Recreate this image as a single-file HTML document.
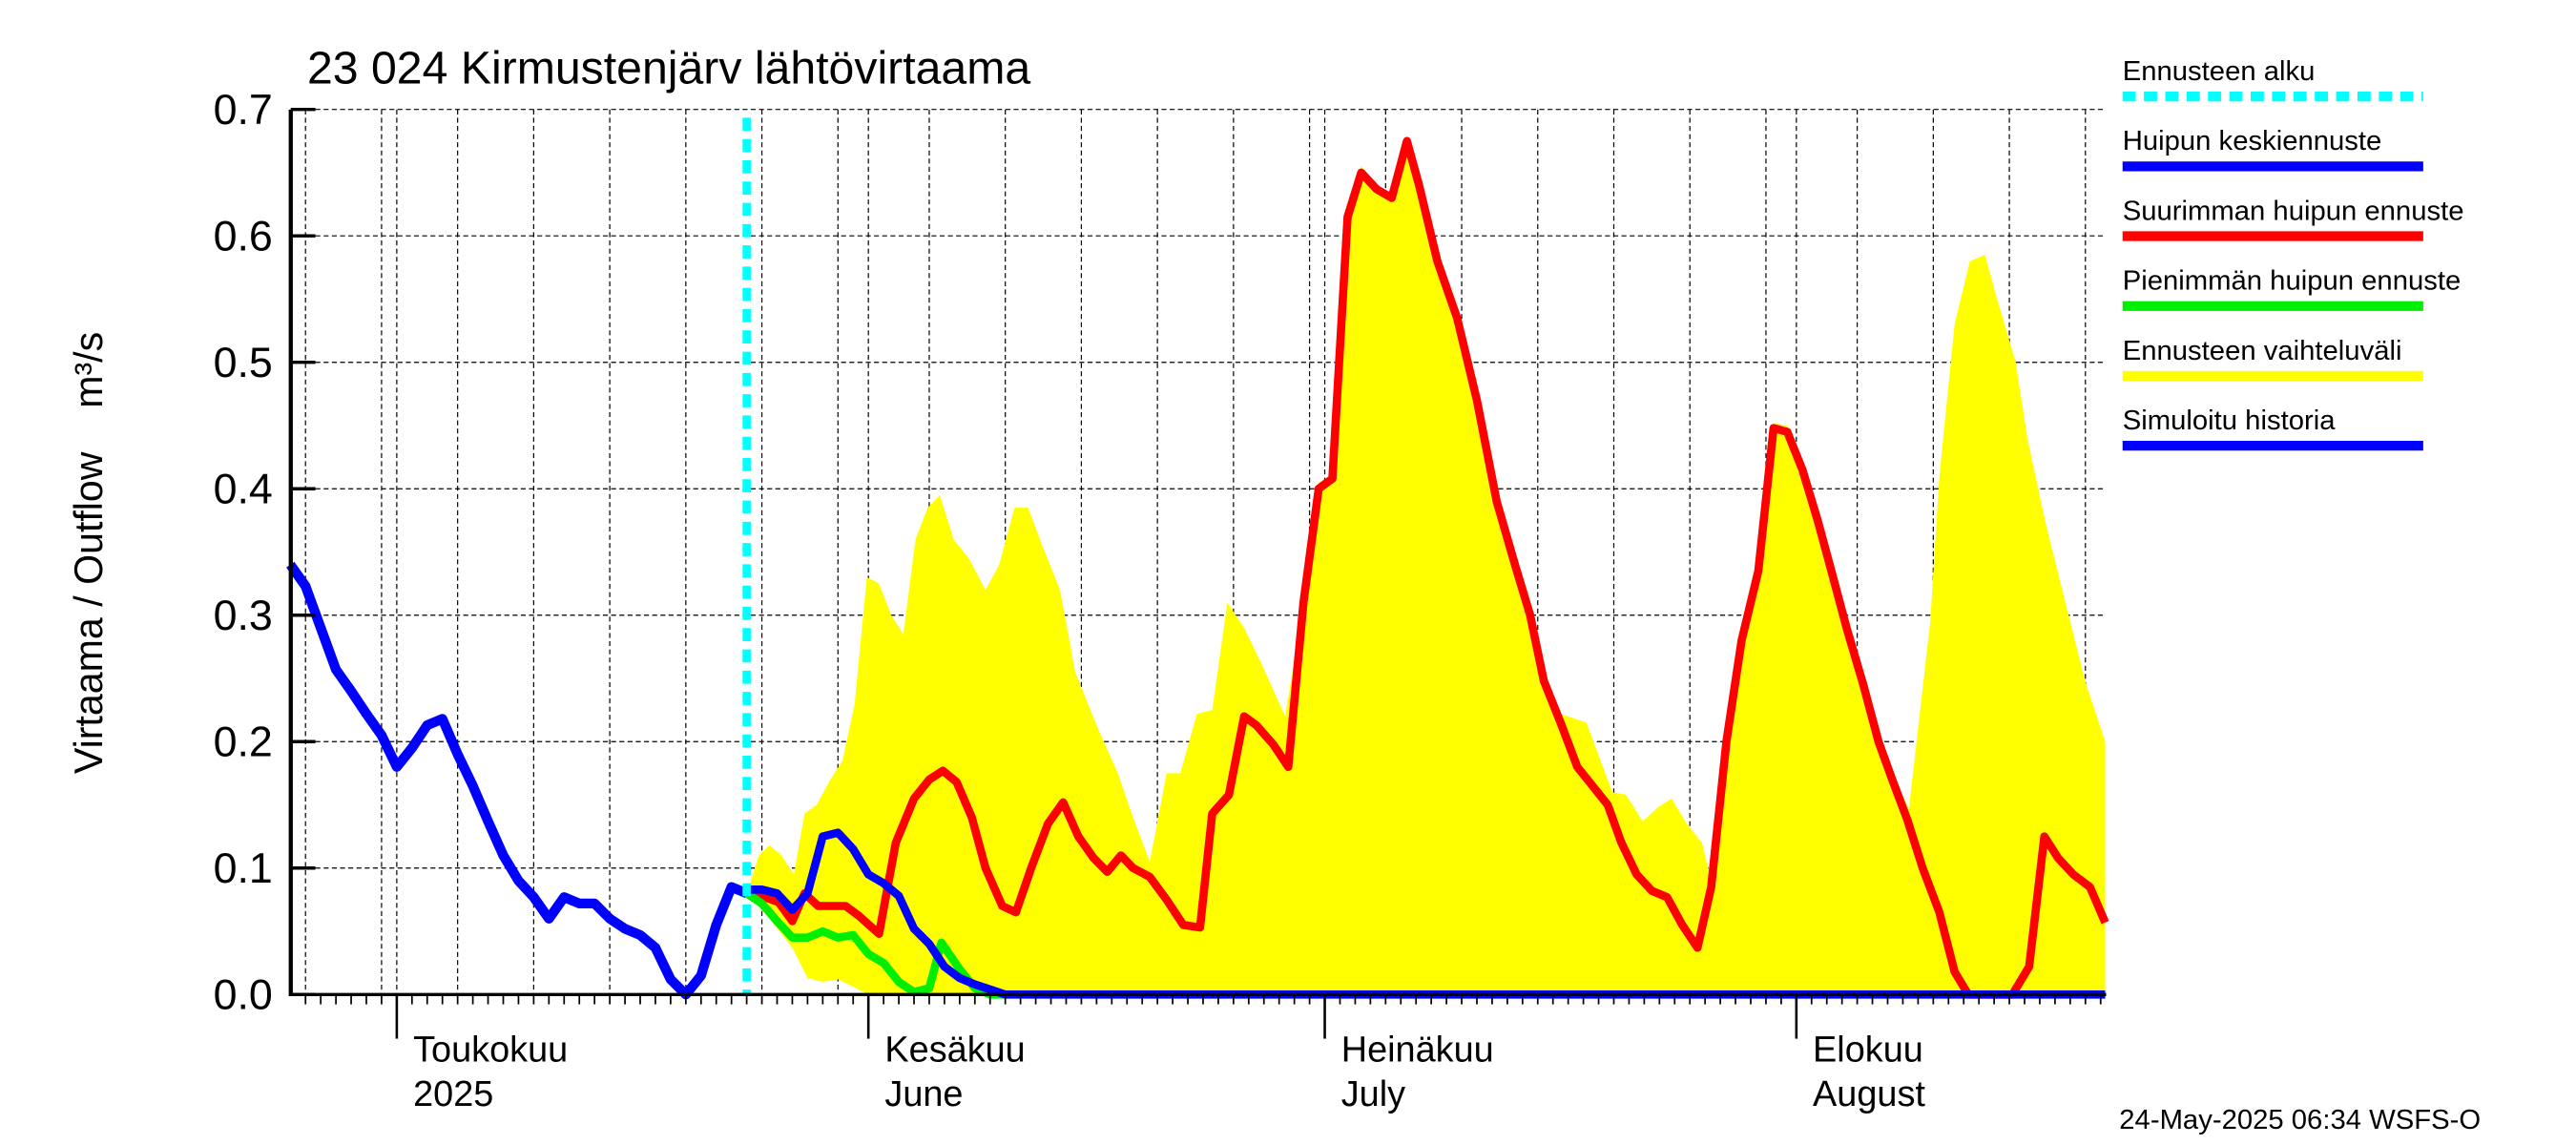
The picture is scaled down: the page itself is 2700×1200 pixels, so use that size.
<!DOCTYPE html>
<html><head><meta charset="utf-8"><style>
html,body{margin:0;padding:0;background:#fff;}
svg{display:block;font-family:"Liberation Sans",sans-serif;}
</style></head><body>
<svg id="chart" width="2700" height="1200" viewBox="0 0 1568 700" preserveAspectRatio="none" xmlns="http://www.w3.org/2000/svg">
<rect x="0" y="0" width="1568" height="700" fill="#fff"/>
<g id="grid"></g>
<g id="band"></g>
<g id="series"></g>
<g id="axes"></g>
<text x="187" y="51" font-size="28">23 024 Kirmustenjärv lähtövirtaama</text>
<text transform="translate(62,338) rotate(-90)" text-anchor="middle" font-size="24" xml:space="preserve">Virtaama / Outflow    m³/s</text>
<text x="1290" y="690" font-size="17">24-May-2025 06:34 WSFS-O</text>
<g id="legend"></g>
</svg>
<script>
// Data: day offsets from 2025-04-24, values in m3/s
const histDays = [0,1,2,3,4,5,6,7,8,9,10,11,12,13,14,15,16,17,18,19,20,21,22,23,24,25,26,27,28,29,30];
const histVals = [0.34,0.323,0.29,0.257,0.24,0.222,0.205,0.18,0.195,0.213,0.218,0.19,0.165,0.137,0.11,0.09,0.077,0.06,0.077,0.072,0.072,0.06,0.052,0.047,0.037,0.012,0.0,0.015,0.055,0.085,0.08];
const medDays = [30,31,32,33,34,35,36,37,38,39,40,41,42,43,44,45,46,47,119.3];
const medVals = [0.083,0.083,0.08,0.067,0.08,0.125,0.128,0.115,0.095,0.088,0.078,0.052,0.04,0.022,0.013,0.008,0.004,0,0];
const minDays = [30,31,32,33,34,35,36,37,38,39,40,41,42,42.8,44,45,46,47];
const minVals = [0.08,0.072,0.058,0.045,0.045,0.05,0.045,0.047,0.032,0.025,0.01,0.002,0.005,0.041,0.02,0.005,0,0];
const maxDays = [30,31.2,32.1,33,33.8,34.7,36.5,37.4,38.7,39.8,41,42,42.9,43.8,44.8,45.7,46.8,47.7,48.7,49.8,50.8,51.8,52.8,53.7,54.6,55.4,56.5,57.6,58.7,59.8,60.6,61.7,62.7,63.5,64.6,65.6,66.6,67.6,68.5,69.5,70.4,71.4,72.4,73.4,74.2,75.4,76.7,78,79.3,80.5,81.5,82.4,83.5,84.6,85.6,86.6,87.5,88.5,89.5,90.5,91.5,92.5,93.4,94.4,95.4,96.5,97.5,98.4,99.4,100.4,101.3,102.3,103.4,104.4,105.3,106.3,107.3,108.4,109.4,110.3,113.2,114.3,115.3,116.2,117.2,118.3,119.3];
const maxVals = [0.08,0.077,0.073,0.058,0.08,0.07,0.07,0.062,0.048,0.12,0.155,0.17,0.177,0.168,0.14,0.1,0.07,0.065,0.1,0.135,0.152,0.125,0.108,0.097,0.11,0.1,0.093,0.075,0.055,0.053,0.143,0.158,0.22,0.213,0.198,0.18,0.31,0.4,0.408,0.615,0.65,0.637,0.63,0.675,0.64,0.58,0.535,0.47,0.39,0.34,0.3,0.248,0.215,0.18,0.165,0.15,0.12,0.095,0.082,0.077,0.055,0.037,0.085,0.2,0.28,0.335,0.448,0.445,0.415,0.375,0.335,0.29,0.245,0.2,0.17,0.138,0.1,0.065,0.018,0.0,0.0,0.022,0.125,0.108,0.095,0.085,0.057];
const bandUpDays = [30,30.8,31.5,32.3,33.1,33.8,34.6,35.5,36.3,37.1,37.9,38.7,39.5,40.3,41.1,41.9,42.7,43.6,44.6,45.7,46.6,47.6,48.5,49.6,50.6,51.6,53.1,54.4,55.4,56.5,57.6,58.5,59.6,60.6,61.6,62.7,63.9,65.4,66.6,67.6,68.5,69.5,70.4,71.4,72.4,73.4,74.2,75.4,76.7,78,79.3,80.5,81.5,82.4,83.5,85.2,86.9,87.8,88.9,89.9,90.8,91.8,92.8,93.4,94.4,95.4,96.5,97.5,98.4,99.4,100.4,101.3,102.3,103.4,104.4,105.3,106.4,107.8,108.4,109.4,110.4,111.4,112.1,113.4,114.2,115.4,117,118,119.3];
const bandUpVals = [0.08,0.11,0.118,0.11,0.095,0.143,0.15,0.17,0.185,0.23,0.33,0.325,0.3,0.285,0.36,0.385,0.395,0.36,0.345,0.32,0.34,0.385,0.385,0.35,0.32,0.255,0.21,0.175,0.14,0.105,0.175,0.175,0.222,0.225,0.31,0.29,0.26,0.22,0.31,0.405,0.41,0.62,0.655,0.64,0.632,0.678,0.645,0.585,0.54,0.475,0.395,0.345,0.305,0.255,0.222,0.215,0.16,0.158,0.137,0.148,0.155,0.135,0.12,0.09,0.205,0.285,0.34,0.452,0.45,0.42,0.38,0.34,0.295,0.25,0.205,0.175,0.147,0.295,0.41,0.53,0.58,0.585,0.554,0.501,0.439,0.372,0.295,0.247,0.2];
const bandLoDays = [30,31.5,33,34,35,36,37.2,38,119.3];
const bandLoVals = [0.08,0.06,0.037,0.013,0.01,0.012,0.005,0,0];
const yTicks = [0,0.1,0.2,0.3,0.4,0.5,0.6,0.7];
const yTickLabels = ["0.0","0.1","0.2","0.3","0.4","0.5","0.6","0.7"];
const monthLabels = [["Toukokuu","2025"],["Kesäkuu","June"],["Heinäkuu","July"],["Elokuu","August"]];
const forecastStartDay = 30;

const NS="http://www.w3.org/2000/svg";
const X0=176.7, PXD=9.26, Y0=608, PXV=773; // axis functions
const xs=d=>X0+d*PXD, ys=v=>Y0-v*PXV;
const XMAX=1282, DMAX=(XMAX-X0)/PXD;
function mk(tag,attrs,parent){const e=document.createElementNS(NS,tag);for(const k in attrs)e.setAttribute(k,attrs[k]);parent.appendChild(e);return e;}
const grid=document.getElementById('grid'),axes=document.getElementById('axes'),series=document.getElementById('series'),band=document.getElementById('band'),legend=document.getElementById('legend');
const base=new Date(Date.UTC(2025,3,24));
const dayOf=(m,d)=>(Date.UTC(2025,m,d)-base)/86400000;
// horizontal grid + y ticks
yTicks.forEach((v,i)=>{
  const g=mk('line',{x1:177,x2:XMAX,y1:ys(v),y2:ys(v),stroke:'#000','stroke-width':0.7,'stroke-dasharray':'3,2'},grid);
  
  
  const t=mk('line',{x1:177,x2:192,y1:ys(v),y2:ys(v),stroke:'#000','stroke-width':2},axes);
  
  
  const l=mk('text',{x:166,y:ys(v)+9,'text-anchor':'end','font-size':26},axes);
  l.textContent=yTickLabels[i];
  
  
});
// vertical grid every 5 days + month starts
for(let m=3;m<=7;m++){
  [1,5,10,15,20,25,30].forEach(dd=>{
    const d=dayOf(m,dd); if(d<0.5||d>DMAX)return;
    const g=mk('line',{x1:xs(d),x2:xs(d),y1:67,y2:Y0,stroke:'#000','stroke-width':0.7,'stroke-dasharray':'3,2'},grid);
    
    
  });
}
// daily minor ticks
for(let d=1;d<DMAX;d++){
  const t=mk('line',{x1:xs(d),x2:xs(d),y1:Y0,y2:Y0+6,stroke:'#000','stroke-width':1},axes);
  
  
}
// month ticks & labels
[4,5,6,7].forEach((m,i)=>{
  const d=dayOf(m,1);
  const t=mk('line',{x1:xs(d),x2:xs(d),y1:Y0,y2:Y0+27,stroke:'#000','stroke-width':1.5},axes);
  
  
  [0,1].forEach(j=>{
    const l=mk('text',{x:xs(d)+10,y:649+j*27,'font-size':22},axes);
    l.textContent=monthLabels[i][j];
    
    
  });
});
// axis lines
const ax1=mk('line',{x1:177,x2:177,y1:67,y2:Y0+1,stroke:'#000','stroke-width':2.5},axes);


const ax2=mk('line',{x1:176,x2:XMAX,y1:Y0,y2:Y0,stroke:'#000','stroke-width':2},axes);


// band
let pts=bandUpDays.map((d,i)=>xs(d)+','+ys(bandUpVals[i]));
for(let i=bandLoDays.length-1;i>=0;i--)pts.push(xs(bandLoDays[i])+','+ys(bandLoVals[i]));
const poly=mk('polygon',{points:pts.join(' '),fill:'#ffff00',stroke:'none'},band);


function line(days,vals,color,w,name){
  const p=mk('polyline',{points:days.map((d,i)=>xs(d)+','+ys(vals[i])).join(' '),fill:'none',stroke:color,'stroke-width':w,'stroke-linejoin':'round'},series);
  
  
}
line(maxDays,maxVals,'#ff0000',5,'max-peak-forecast-line');
line(minDays,minVals,'#00ee00',5,'min-peak-forecast-line');
line(medDays,medVals,'#0000ff',5,'median-peak-forecast-line');
line(histDays,histVals,'#0000ff',6,'simulated-history-line');
const fs=mk('line',{x1:xs(forecastStartDay),x2:xs(forecastStartDay),y1:72,y2:Y0,stroke:'#00ffff','stroke-width':5,'stroke-dasharray':'8,5'},series);


// legend
const legItems=[["Ennusteen alku","#00ffff",true],["Huipun keskiennuste","#0000ff",false],["Suurimman huipun ennuste","#ff0000",false],["Pienimmän huipun ennuste","#00ee00",false],["Ennusteen vaihteluväli","#ffff00",false],["Simuloitu historia","#0000ff",false]];
legItems.forEach((it,i)=>{
  const y=43+i*42.7;
  const g=mk('g',{},legend);
  
  
  const t=mk('text',{x:1292,y:y+6,'font-size':17},g);
  t.textContent=it[0];
  const a={x1:1292,x2:1475,y1:y+16,y2:y+16,stroke:it[1],'stroke-width':6};
  if(it[2])a['stroke-dasharray']='8,5';
  mk('line',a,g);
});
</script>
</body></html>
